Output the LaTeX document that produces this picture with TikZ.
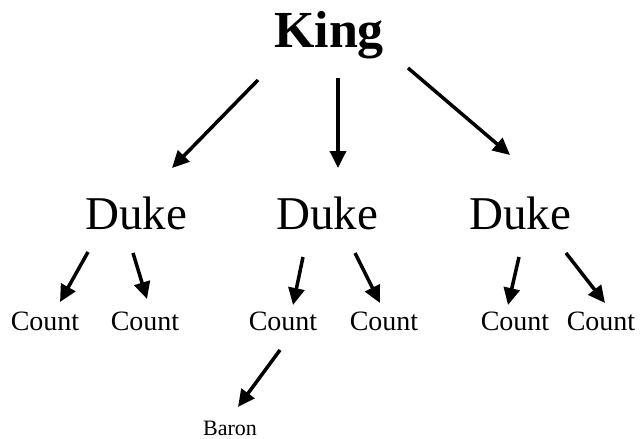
\documentclass[tikz,border=0pt]{standalone}
\usepackage{fontspec}
\setmainfont{Liberation Serif}
\usetikzlibrary{arrows.meta,calc}

\begin{document}
\begin{tikzpicture}[x=1pt,y=-1pt,
  king/.style={anchor=base,inner sep=0pt,font=\fontsize{52}{60}\selectfont\bfseries},
  duke/.style={anchor=base,inner sep=0pt,font=\fontsize{47}{55}\selectfont},
  count/.style={anchor=base,inner sep=0pt,font=\fontsize{28}{32}\selectfont},
  baron/.style={anchor=base,inner sep=0pt,font=\fontsize{22}{26}\selectfont},
  link/.style={line width=3.5pt,-{Triangle[length=17pt,width=16pt]}}]
\useasboundingbox (0,0) rectangle (641,439);

% the ranks, placed by their baselines
\node[king]  (king)   at (329,48)  {King};
\node[duke]  (duke1)  at (136,229) {Duke};
\node[duke]  (duke2)  at (327,229) {Duke};
\node[duke]  (duke3)  at (520,229) {Duke};
\node[count] (count1) at (45,330)  {Count};
\node[count] (count2) at (145,330) {Count};
\node[count] (count3) at (283,330) {Count};
\node[count] (count4) at (384,330) {Count};
\node[count] (count5) at (515,330) {Count};
\node[count] (count6) at (601,330) {Count};
\node[baron] (baron)  at (230,435) {Baron};

% King to the dukes
\draw[link] ($(king.base)+(-71,32)$) -- ($(duke1.base)+(36,-61)$);
\draw[link] ($(king.base)+(9,30)$)   -- ($(duke2.base)+(11,-61)$);
\draw[link] ($(king.base)+(79,20)$)  -- ($(duke3.base)+(-10,-74)$);

% dukes to the counts
\draw[link] ($(duke1.base)+(-48,23)$) -- ($(count1.base)+(15,-28)$);
\draw[link] ($(duke1.base)+(-3,24)$)  -- ($(count2.base)+(2,-31)$);
\draw[link] ($(duke2.base)+(-24,28)$) -- ($(count3.base)+(10,-25)$);
\draw[link] ($(duke2.base)+(28,24)$)  -- ($(count4.base)+(-4,-27)$);
\draw[link] ($(duke3.base)+(-1,28)$)  -- ($(count5.base)+(-7,-25)$);
\draw[link] ($(duke3.base)+(46,24)$)  -- ($(count6.base)+(4,-27)$);

% count to the baron
\draw[link] ($(count3.base)+(-3,20)$) -- ($(baron.base)+(8,-28)$);
\end{tikzpicture}
\end{document}
